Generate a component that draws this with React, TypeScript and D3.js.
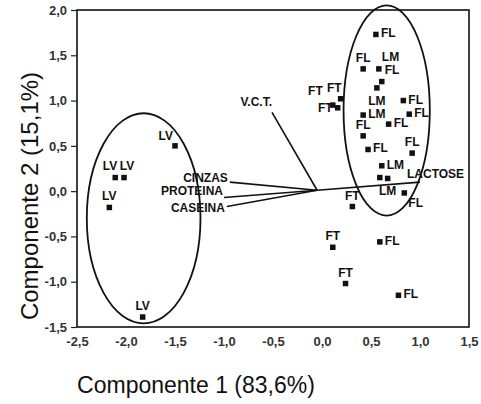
import * as d3 from "d3";
import { useEffect, useRef } from "react";

// scores (PC1, PC2) with their sample group label
const POINT_LABELS = [
  "LV", "LV", "LV", "LV", "LV",
  "FT", "FT", "FT", "FT", "FT", "FT",
  "FL", "FL", "LM", "FL", "LM", "FL", "LM", "FL", "FL", "FL", "FL", "FL", "LM", "", "LM", "FL", "FL", "FL",
];
const PC1_SCORES = [
  -1.5, -2.11, -2.02, -2.17, -1.83,
  0.19, 0.11, 0.16, 0.31, 0.11, 0.24,
  0.55, 0.42, 0.58, 0.61, 0.56, 0.83, 0.42, 0.89, 0.68, 0.42, 0.92, 0.47, 0.61, 0.59, 0.67, 0.84, 0.59, 0.78,
];
const PC2_SCORES = [
  0.5, 0.15, 0.15, -0.18, -1.39,
  1.02, 0.95, 0.92, -0.17, -0.62, -1.02,
  1.73, 1.35, 1.35, 1.21, 1.14, 1.0, 0.84, 0.85, 0.74, 0.61, 0.42, 0.46, 0.28, 0.15, 0.14, -0.02, -0.56, -1.15,
];
// where each label sits around its marker
const LABEL_PLACEMENT = [
  "tl", "tl2", "t2", "t", "t",
  "tk", "tll", "l", "t", "t", "t",
  "r", "t", "tr", "tr", "b", "r", "r", "r", "r", "t", "t", "r", "r", "r", "b", "br", "r", "r",
];

// loading vectors
const VAR_NAMES = ["V.C.T.", "CINZAS", "PROTEINA", "CASEINA", "LACTOSE"];
const VAR_PC1 = [-0.51, -0.94, -1.0, -0.97, 1.0];
const VAR_PC2 = [0.87, 0.1, -0.07, -0.17, 0.1];
const VECTOR_ORIGIN = [-0.05, 0.01];

// group ellipses: center x, center y, radius x, radius y
const ELLIPSE_CX = [-1.82, 0.66];
const ELLIPSE_CY = [-0.3, 0.89];
const ELLIPSE_RX = [0.58, 0.44];
const ELLIPSE_RY = [1.16, 1.16];

const X_TICKS = [-2.5, -2.0, -1.5, -1.0, -0.5, 0.0, 0.5, 1.0, 1.5];
const Y_TICKS = [-1.5, -1.0, -0.5, 0.0, 0.5, 1.0, 1.5, 2.0];

const PLACE: Record<string, { anchor: string; dx: number; dy: number }> = {
  r: { anchor: "start", dx: 5, dy: 3 },
  t: { anchor: "middle", dx: 0, dy: -7 },
  t2: { anchor: "middle", dx: 3, dy: -8 },
  tl: { anchor: "end", dx: -2, dy: -6 },
  tl2: { anchor: "end", dx: 2, dy: -8 },
  tk: { anchor: "end", dx: 1, dy: -7 },
  tll: { anchor: "end", dx: -10, dy: -10 },
  tr: { anchor: "start", dx: 3, dy: -8 },
  l: { anchor: "end", dx: -5, dy: 4 },
  b: { anchor: "middle", dx: 0, dy: 17 },
  br: { anchor: "start", dx: 4, dy: 14 },
};

const VAR_LABEL_POS: Record<string, { anchor: string; dx: number; dy: number }> = {
  "V.C.T.": { anchor: "end", dx: 0, dy: -6 },
  CINZAS: { anchor: "end", dx: -2, dy: 0 },
  PROTEINA: { anchor: "end", dx: -1, dy: -2 },
  CASEINA: { anchor: "end", dx: -2, dy: 5 },
  LACTOSE: { anchor: "start", dx: -13, dy: -4 },
};

const FONT = "'Liberation Sans', Arial, sans-serif";
const fmt = (v: number) => v.toFixed(1).replace(".", ",");

export default function App() {
  const ref = useRef<SVGSVGElement>(null);

  useEffect(() => {
    if (!ref.current) return;
    const svg = d3.select(ref.current);
    svg.selectAll("*").remove();

    const left = 77, right = 469, top = 10, bottom = 327;
    const x = d3.scaleLinear().domain([-2.5, 1.5]).range([left, right]);
    const y = d3.scaleLinear().domain([-1.5, 2.0]).range([bottom, top]);

    svg.append("rect").attr("width", 481).attr("height", 404).attr("fill", "#fff");

    // frame
    svg
      .append("rect")
      .attr("x", left)
      .attr("y", top)
      .attr("width", right - left)
      .attr("height", bottom - top)
      .attr("fill", "none")
      .attr("stroke", "#111")
      .attr("stroke-width", 1.6);

    const yAxis = svg
      .append("g")
      .attr("transform", `translate(${left},0)`)
      .call(d3.axisLeft(y).tickValues(Y_TICKS).tickFormat((d) => fmt(+d)).tickSize(6).tickPadding(4));
    yAxis.select(".domain").remove();
    yAxis.selectAll("line").attr("stroke", "#222").attr("stroke-width", 1.2);
    yAxis
      .selectAll("text")
      .style("font-family", FONT)
      .style("font-size", "13px")
      .style("font-weight", "bold")
      .attr("fill", "#333");

    const xAxis = svg
      .append("g")
      .attr("transform", `translate(0,${bottom})`)
      .call(d3.axisBottom(x).tickValues(X_TICKS).tickFormat((d) => fmt(+d)).tickSize(0).tickPadding(10));
    xAxis.select(".domain").remove();
    xAxis
      .selectAll("text")
      .style("font-family", FONT)
      .style("font-size", "13px")
      .style("font-weight", "bold")
      .attr("fill", "#333");

    // ellipses
    svg
      .selectAll("ellipse.grp")
      .data(ELLIPSE_CX.map((cx, i) => i))
      .join("ellipse")
      .attr("cx", (i) => x(ELLIPSE_CX[i]))
      .attr("cy", (i) => y(ELLIPSE_CY[i]))
      .attr("rx", (i) => x(ELLIPSE_RX[i]) - x(0))
      .attr("ry", (i) => y(0) - y(ELLIPSE_RY[i]))
      .attr("fill", "none")
      .attr("stroke", "#111")
      .attr("stroke-width", 1.8);

    // loading vectors
    const vars = VAR_NAMES.map((name, i) => ({ name, vx: VAR_PC1[i], vy: VAR_PC2[i] }));
    svg
      .selectAll("line.vec")
      .data(vars)
      .join("line")
      .attr("x1", x(VECTOR_ORIGIN[0]))
      .attr("y1", y(VECTOR_ORIGIN[1]))
      .attr("x2", (d) => x(d.vx))
      .attr("y2", (d) => y(d.vy))
      .attr("stroke", "#111")
      .attr("stroke-width", 1.6);

    svg
      .selectAll("text.vec")
      .data(vars)
      .join("text")
      .attr("x", (d) => x(d.vx) + VAR_LABEL_POS[d.name].dx)
      .attr("y", (d) => y(d.vy) + VAR_LABEL_POS[d.name].dy)
      .attr("text-anchor", (d) => VAR_LABEL_POS[d.name].anchor)
      .style("font-family", FONT)
      .style("font-size", "12px")
      .style("font-weight", "bold")
      .attr("fill", "#111")
      .text((d) => d.name);

    // score points
    const pts = POINT_LABELS.map((label, i) => ({
      label,
      px: PC1_SCORES[i],
      py: PC2_SCORES[i],
      place: PLACE[LABEL_PLACEMENT[i]],
    }));
    const ms = 5.5;
    svg
      .selectAll("rect.pt")
      .data(pts)
      .join("rect")
      .attr("x", (d) => x(d.px) - ms / 2)
      .attr("y", (d) => y(d.py) - ms / 2)
      .attr("width", ms)
      .attr("height", ms)
      .attr("fill", "#111");

    svg
      .selectAll("text.pt")
      .data(pts.filter((d) => d.label))
      .join("text")
      .attr("x", (d) => x(d.px) + d.place.dx)
      .attr("y", (d) => y(d.py) + d.place.dy)
      .attr("text-anchor", (d) => d.place.anchor)
      .style("font-family", FONT)
      .style("font-size", "12px")
      .style("font-weight", "bold")
      .attr("fill", "#111")
      .text((d) => d.label);

    // axis titles
    svg
      .append("text")
      .attr("x", 196)
      .attr("y", 393)
      .attr("text-anchor", "middle")
      .style("font-family", FONT)
      .style("font-size", "23px")
      .attr("fill", "#111")
      .text("Componente 1 (83,6%)");

    svg
      .append("text")
      .attr("transform", "translate(38,196) rotate(-90)")
      .attr("text-anchor", "middle")
      .style("font-family", FONT)
      .style("font-size", "24px")
      .attr("fill", "#111")
      .text("Componente 2 (15,1%)");
  }, []);

  return (
    <svg
      ref={ref}
      width={481}
      height={404}
      style={{ position: "absolute", left: 0, top: 0, display: "block" }}
    />
  );
}
